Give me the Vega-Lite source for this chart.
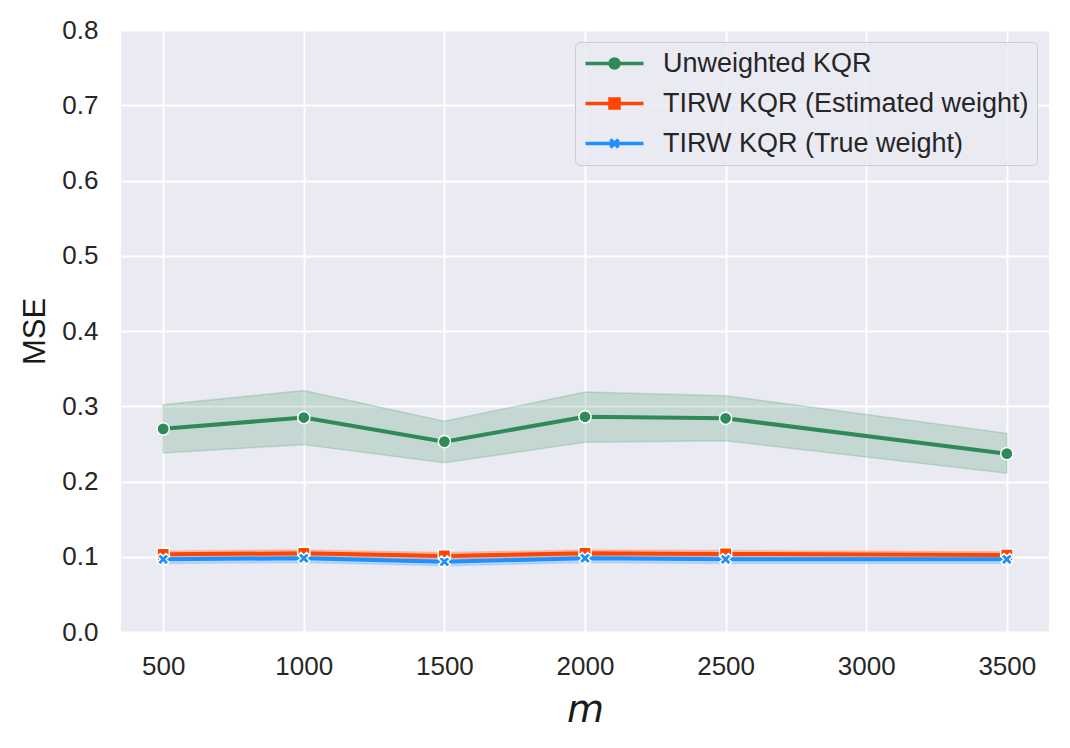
{
  "$schema": "https://vega.github.io/schema/vega-lite/v6.json",
  "autosize": "none",
  "width": 928,
  "height": 602,
  "padding": {"left": 121, "top": 30, "right": 21, "bottom": 116},
  "background": "white",
  "config": {
    "view": {"fill": "#EAEAF2", "stroke": null},
    "axis": {
      "domain": false,
      "ticks": false,
      "tickSize": 0,
      "gridColor": "white",
      "gridWidth": 1.8,
      "labelFont": "Liberation Sans",
      "labelFontSize": 26,
      "labelColor": "#262626",
      "titleFont": "Liberation Sans",
      "titleFontWeight": "normal",
      "titleColor": "#1a1a1a"
    }
  },
  "data": {
    "values": [
      {"m": 500, "series": "Unweighted KQR", "mse": 0.270, "lo": 0.238, "hi": 0.302},
      {"m": 1000, "series": "Unweighted KQR", "mse": 0.285, "lo": 0.249, "hi": 0.321},
      {"m": 1500, "series": "Unweighted KQR", "mse": 0.253, "lo": 0.225, "hi": 0.280},
      {"m": 2000, "series": "Unweighted KQR", "mse": 0.286, "lo": 0.252, "hi": 0.319},
      {"m": 2500, "series": "Unweighted KQR", "mse": 0.284, "lo": 0.254, "hi": 0.314},
      {"m": 3500, "series": "Unweighted KQR", "mse": 0.237, "lo": 0.211, "hi": 0.264},
      {"m": 500, "series": "TIRW KQR (Estimated weight)", "mse": 0.1033, "lo": 0.0988, "hi": 0.1078},
      {"m": 1000, "series": "TIRW KQR (Estimated weight)", "mse": 0.1046, "lo": 0.1001, "hi": 0.1091},
      {"m": 1500, "series": "TIRW KQR (Estimated weight)", "mse": 0.1010, "lo": 0.0965, "hi": 0.1055},
      {"m": 2000, "series": "TIRW KQR (Estimated weight)", "mse": 0.1046, "lo": 0.1001, "hi": 0.1091},
      {"m": 2500, "series": "TIRW KQR (Estimated weight)", "mse": 0.1037, "lo": 0.0992, "hi": 0.1082},
      {"m": 3500, "series": "TIRW KQR (Estimated weight)", "mse": 0.1023, "lo": 0.0978, "hi": 0.1068},
      {"m": 500, "series": "TIRW KQR (True weight)", "mse": 0.0966, "lo": 0.0911, "hi": 0.1021},
      {"m": 1000, "series": "TIRW KQR (True weight)", "mse": 0.0980, "lo": 0.0925, "hi": 0.1035},
      {"m": 1500, "series": "TIRW KQR (True weight)", "mse": 0.0934, "lo": 0.0879, "hi": 0.0989},
      {"m": 2000, "series": "TIRW KQR (True weight)", "mse": 0.0980, "lo": 0.0925, "hi": 0.1035},
      {"m": 2500, "series": "TIRW KQR (True weight)", "mse": 0.0966, "lo": 0.0911, "hi": 0.1021},
      {"m": 3500, "series": "TIRW KQR (True weight)", "mse": 0.0966, "lo": 0.0911, "hi": 0.1021}
    ]
  },
  "encoding": {
    "x": {
      "field": "m",
      "type": "quantitative",
      "scale": {"domain": [350, 3650], "nice": false, "zero": false},
      "axis": {
        "values": [500, 1000, 1500, 2000, 2500, 3000, 3500],
        "format": "d",
        "labelFlush": false,
        "labelPadding": 21,
        "title": "m",
        "titleFont": "DejaVu Sans",
        "titleFontStyle": "italic",
        "titleFontSize": 38,
        "titlePadding": 12
      }
    },
    "y": {
      "field": "mse",
      "type": "quantitative",
      "scale": {"domain": [0, 0.8], "nice": false},
      "axis": {
        "values": [0, 0.1, 0.2, 0.3, 0.4, 0.5, 0.6, 0.7, 0.8],
        "format": ".1f",
        "labelPadding": 23,
        "title": "MSE",
        "titleFontSize": 31,
        "titlePadding": 10
      }
    }
  },
  "layer": [
    {
      "transform": [{"filter": "datum.series === 'Unweighted KQR'"}],
      "mark": {"type": "area", "color": "#2E8B57", "fillOpacity": 0.2, "stroke": "#2E8B57", "strokeOpacity": 0.2, "strokeWidth": 1.5},
      "encoding": {"y": {"field": "lo", "type": "quantitative"}, "y2": {"field": "hi"}}
    },
    {
      "transform": [{"filter": "datum.series === 'TIRW KQR (Estimated weight)'"}],
      "mark": {"type": "area", "color": "#FF4500", "fillOpacity": 0.2, "stroke": "#FF4500", "strokeOpacity": 0.2, "strokeWidth": 1.5},
      "encoding": {"y": {"field": "lo", "type": "quantitative"}, "y2": {"field": "hi"}}
    },
    {
      "transform": [{"filter": "datum.series === 'TIRW KQR (True weight)'"}],
      "mark": {"type": "area", "color": "#1E90FF", "fillOpacity": 0.2, "stroke": "#1E90FF", "strokeOpacity": 0.2, "strokeWidth": 1.5},
      "encoding": {"y": {"field": "lo", "type": "quantitative"}, "y2": {"field": "hi"}}
    },
    {
      "transform": [{"filter": "datum.series === 'Unweighted KQR'"}],
      "mark": {"type": "line", "color": "#2E8B57", "strokeWidth": 4},
      "encoding": {}
    },
    {
      "transform": [{"filter": "datum.series === 'Unweighted KQR'"}],
      "mark": {"type": "point", "shape": "circle", "filled": true, "fill": "#2E8B57", "opacity": 1, "size": 150, "stroke": "white", "strokeWidth": 1.5},
      "encoding": {}
    },
    {
      "transform": [{"filter": "datum.series === 'TIRW KQR (Estimated weight)'"}],
      "mark": {"type": "line", "color": "#FF4500", "strokeWidth": 4},
      "encoding": {}
    },
    {
      "transform": [{"filter": "datum.series === 'TIRW KQR (Estimated weight)'"}],
      "mark": {"type": "point", "shape": "square", "filled": true, "fill": "#FF4500", "opacity": 1, "size": 150, "stroke": "white", "strokeWidth": 1.5},
      "encoding": {}
    },
    {
      "transform": [{"filter": "datum.series === 'TIRW KQR (True weight)'"}],
      "mark": {"type": "line", "color": "#1E90FF", "strokeWidth": 4},
      "encoding": {}
    },
    {
      "transform": [{"filter": "datum.series === 'TIRW KQR (True weight)'"}],
      "mark": {"type": "point", "shape": "M0.46,-0.955L0.955,-0.46L0.495,0L0.955,0.46L0.46,0.955L0,0.495L-0.46,0.955L-0.955,0.46L-0.495,0L-0.955,-0.46L-0.46,-0.955L0,-0.495Z", "filled": true, "fill": "#1E90FF", "opacity": 1, "size": 150, "stroke": "white", "strokeWidth": 1.5},
      "encoding": {}
    },
    {
      "transform": [{"filter": "false"}],
      "mark": {"type": "point", "filled": false, "opacity": 1, "strokeWidth": 3.5},
      "encoding": {
        "shape": {
          "field": "series",
          "type": "nominal",
          "scale": {
            "domain": ["Unweighted KQR", "TIRW KQR (Estimated weight)", "TIRW KQR (True weight)"],
            "range": [
              "M-2.9,0L2.9,0M0.45,0L0.39,0.225L0.225,0.39L0,0.45L-0.225,0.39L-0.39,0.225L-0.45,0L-0.39,-0.225L-0.225,-0.39L0,-0.45L0.225,-0.39L0.39,-0.225ZM-0.12,-0.12L0.12,-0.12L0.12,0.12L-0.12,0.12Z",
              "M-2.9,0L2.9,0M-0.45,-0.45L0.45,-0.45L0.45,0.45L-0.45,0.45ZM-0.12,-0.12L0.12,-0.12L0.12,0.12L-0.12,0.12Z",
              "M-2.9,0L2.9,0M-0.4,-0.4L0.4,0.4M-0.4,0.4L0.4,-0.4"
            ]
          },
          "legend": {"title": null}
        },
        "color": {
          "field": "series",
          "type": "nominal",
          "scale": {
            "domain": ["Unweighted KQR", "TIRW KQR (Estimated weight)", "TIRW KQR (True weight)"],
            "range": ["#2E8B57", "#FF4500", "#1E90FF"]
          },
          "legend": {
            "title": null,
            "orient": "top-right",
            "offset": 12,
            "padding": 8,
            "fillColor": "rgba(234,234,242,0.8)",
            "strokeColor": "#cccccc",
            "cornerRadius": 5,
            "symbolSize": 400,
            "symbolStrokeWidth": 3.5,
            "symbolOffset": 18,
            "labelOffset": 35,
            "rowPadding": 12,
            "labelFont": "Liberation Sans",
            "labelFontSize": 27,
            "labelColor": "#262626",
            "labelLimit": 1000
          }
        }
      }
    }
  ]
}
